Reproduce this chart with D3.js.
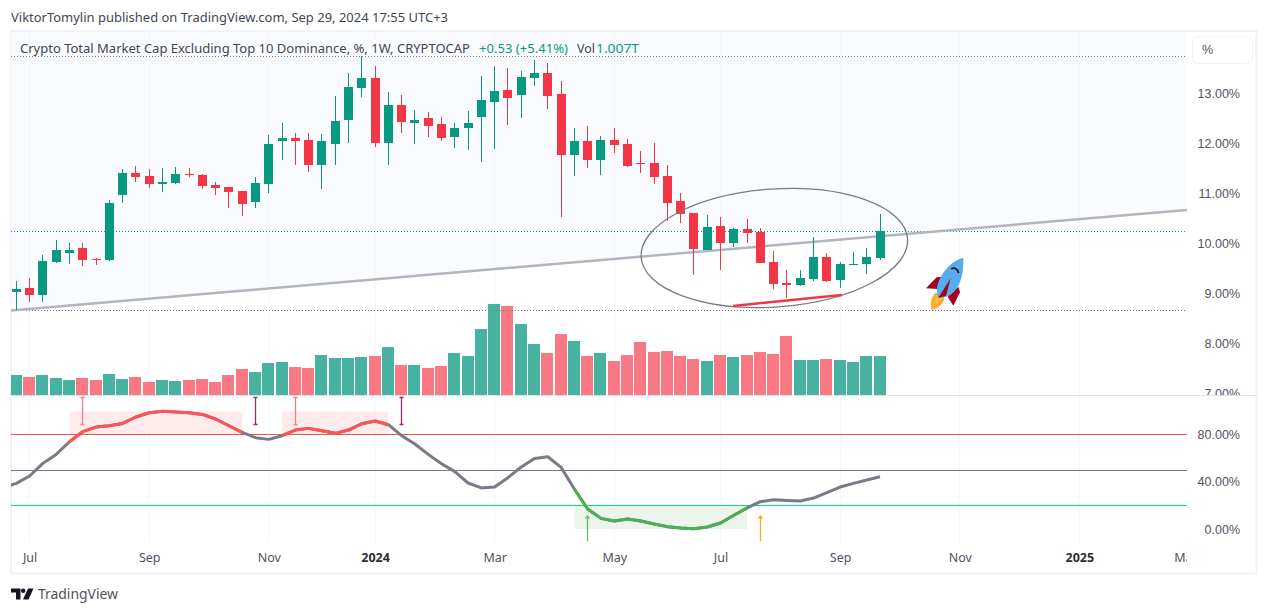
<!DOCTYPE html>
<html>
<head>
<meta charset="utf-8">
<script src="https://cdn.jsdelivr.net/npm/d3@7/dist/d3.min.js"></script>
<style>html,body{margin:0;padding:0;background:#fff}svg{display:block}</style>
</head>
<body>
<div id="chart"></div>
<script>
const opens  = [9.02,9.10,8.96,9.62,9.80,9.90,9.68,9.66,10.96,11.40,11.34,11.18,11.20,11.38,11.36,11.16,11.12,11.04,10.82,11.18,12.04,12.10,12.06,11.56,11.98,12.46,13.10,13.30,12.00,12.76,12.40,12.50,12.38,12.12,12.30,12.52,12.82,13.06,12.96,13.30,13.40,12.98,11.76,12.04,11.66,12.06,11.98,11.60,11.60,11.34,10.84,10.60,9.86,10.34,10.00,10.28,10.22,9.62,9.20,9.16,9.28,9.72,9.26,9.56,9.58,9.70];
const highs  = [9.24,9.30,9.76,10.06,10.00,10.00,9.70,10.86,11.48,11.54,11.48,11.50,11.52,11.50,11.38,11.22,11.12,11.04,11.32,12.16,12.40,12.20,12.20,12.18,12.94,13.40,13.74,13.54,13.02,12.96,12.66,12.62,12.52,12.40,12.64,13.34,13.54,13.50,13.44,13.66,13.60,13.24,12.30,12.34,12.14,12.30,12.08,11.84,12.00,11.56,11.00,10.60,10.56,10.52,10.30,10.48,10.30,9.84,9.46,9.46,10.12,9.80,9.62,9.82,9.90,10.58];
const lows   = [8.66,8.82,8.82,9.60,9.58,9.54,9.56,9.64,10.80,11.22,11.10,11.02,11.18,11.32,11.08,10.96,10.70,10.54,10.70,11.00,11.66,11.56,11.42,11.08,11.56,12.00,12.92,11.92,11.56,12.20,11.98,12.12,12.04,11.90,11.86,11.62,11.88,12.36,12.50,13.14,12.68,10.52,11.34,11.50,11.36,11.80,11.52,11.40,11.18,10.44,10.40,9.36,9.86,9.46,9.92,10.00,9.60,9.08,8.90,9.14,9.24,9.22,9.10,9.56,9.38,9.66];
const closes = [9.08,8.96,9.64,9.86,9.86,9.66,9.66,10.80,11.40,11.32,11.18,11.22,11.38,11.36,11.14,11.10,11.02,10.78,11.20,11.98,12.10,12.04,11.56,12.04,12.44,13.12,13.30,12.00,12.76,12.42,12.46,12.34,12.10,12.30,12.40,12.86,13.04,12.90,13.32,13.40,12.94,11.76,12.04,11.66,12.06,11.96,11.54,11.58,11.32,10.80,10.58,9.88,10.32,10.00,10.28,10.20,9.60,9.18,9.16,9.30,9.72,9.24,9.58,9.58,9.72,10.24];
const volumes = [.52,.46,.52,.44,.39,.44,.39,.54,.41,.46,.34,.39,.36,.39,.41,.34,.52,.67,.59,.83,.85,.72,.70,1.03,.95,.95,.98,1.01,1.24,.77,.77,.70,.75,1.08,1.01,1.70,2.35,2.30,1.83,1.32,1.08,1.57,1.39,1.01,1.08,.88,1.03,1.37,1.11,1.14,1.01,.93,.88,1.03,.98,1.03,1.11,1.06,1.52,.90,.90,.93,.90,.85,1.01,1.007];
const rsiBefore = 34.7;
const rsi = [38.6,44.8,55.5,63.1,73.8,82.3,86.2,87.3,89.3,94.7,98.3,99.5,98.9,98.3,96.9,93.0,87.3,81.7,77.2,75.8,78.9,83.7,85.1,83.1,80.9,83.7,89.0,91.3,88.2,78.9,71.9,63.1,55.2,48.5,38.9,34.7,35.5,43.4,52.4,59.7,61.1,52.1,33.8,16.9,9.0,6.8,8.5,6.8,4.2,2.0,0.8,0.3,1.7,5.1,11.6,17.8,23.1,24.8,24.2,23.7,26.2,30.7,35.5,38.6,41.4,44.2];
const overboughtRanges = [[4,17],[20,28]];
const oversoldRanges = [[42,55]];
const rsiLevels = [80,50,20];
const rsiLevelColors = ["#ef5350","#787b86","#00e676"];
const priceTicks = [7,8,9,10,11,12,13];
const rsiTicks = [0,40,80];
const timeTickIdx = [1,10,19,27,36,45,53,62,71,80,88];
const timeTickLabels = ["Jul","Sep","Nov","2024","Mar","May","Jul","Sep","Nov","2025","Mar"];
const boldLabels = ["2024","2025"];
const dottedLevels = [13.74,8.66];
const lastPrice = 10.24;
const trendIdx = [-0.4,88.1];
const trendVal = [8.65,10.66];
const supportIdx = [53.93,62.13];
const supportVal = [8.74,8.96];
const ellipseCenter = [57.05,9.90];
const ellipseRadii = [10.05,1.18];
const upperMarkers = [[5,"#f77c80"],[18,"#9c2a6c"],[21,"#f77c80"],[29,"#9c2a6c"]];
const lowerMarkers = [[43,"#66bb6a"],[56,"#ffa726"]];

const W=1268,H=614,L=11,R=1187,T=32,PB=395,B=541.5;
const font='"Noto Sans",sans-serif', axisFont='"Liberation Sans",sans-serif';
const x=d3.scaleLinear().domain([0,65]).range([16.3,880]);
const y=d3.scaleLinear().domain([7,14]).range([393,43]);
const yv=d3.scaleLinear().domain([0,2.35]).range([395,304]);
const yr=d3.scaleLinear().domain([0,80]).range([529,434.4]);
const GREEN="#089981",RED="#f23645",VG="#46b29f",VR="#f87884";

const svg=d3.select("#chart").append("svg").attr("width",W).attr("height",H).attr("viewBox",`0 0 ${W} ${H}`);
const defs=svg.append("defs");
defs.append("clipPath").attr("id","main").append("rect").attr("x",L).attr("y",T).attr("width",R-L).attr("height",PB-T);
defs.append("clipPath").attr("id","rsi").append("rect").attr("x",L).attr("y",PB).attr("width",R-L).attr("height",B-PB);
defs.append("clipPath").attr("id","pax").append("rect").attr("x",R).attr("y",T).attr("width",70).attr("height",PB-T);
defs.append("clipPath").attr("id","tax").append("rect").attr("x",L).attr("y",B).attr("width",R-L).attr("height",32);

svg.append("rect").attr("width",W).attr("height",H).attr("fill","#fff");
// frame
svg.append("rect").attr("x",11).attr("y",31).attr("width",1245.5).attr("height",542.5).attr("fill","none").attr("stroke","#f0f3fa").attr("stroke-width",2);

// shaded area above the trend line
svg.append("g").attr("clip-path","url(#main)").append("path").attr("fill","#f9fbff")
  .attr("d",`M${x(trendIdx[0])},${T}L${x(trendIdx[1])},${T}L${x(trendIdx[1])},${y(trendVal[1])}L${x(trendIdx[0])},${y(trendVal[0])}Z`);
// grid
svg.append("g").selectAll("line").data(timeTickIdx.slice(0,-1)).join("line")
  .attr("x1",d=>Math.floor(x(d))+.5).attr("x2",d=>Math.floor(x(d))+.5).attr("y1",T).attr("y2",B)
  .attr("stroke","#f5f6fa");

const main=svg.append("g").attr("clip-path","url(#main)");
// volume
main.append("g").selectAll("rect").data(volumes).join("rect")
  .attr("x",(d,i)=>Math.round(x(i)-6.5)).attr("width",(d,i)=>Math.round(x(i)+6.5)-1-Math.round(x(i)-6.5))
  .attr("y",d=>Math.round(yv(d))).attr("height",d=>395-Math.round(yv(d)))
  .attr("fill",(d,i)=>closes[i]>=opens[i]?VG:VR);
// dotted levels
main.append("g").selectAll("line").data(dottedLevels).join("line")
  .attr("x1",L).attr("x2",R).attr("y1",d=>Math.round(y(d))+.5).attr("y2",d=>Math.round(y(d))+.5)
  .attr("stroke","#787b86").attr("stroke-dasharray","1 2");
main.append("line").attr("x1",L).attr("x2",R).attr("y1",Math.round(y(lastPrice))+.5).attr("y2",Math.round(y(lastPrice))+.5)
  .attr("stroke",GREEN).attr("stroke-dasharray","1 2");
// trend line
main.append("line").attr("x1",x(trendIdx[0])).attr("y1",y(trendVal[0])).attr("x2",x(trendIdx[1])).attr("y2",y(trendVal[1]))
  .attr("stroke","#b2b5be").attr("stroke-width",2.5);
// candles
const c=main.append("g");
c.selectAll("line").data(d3.range(opens.length)).join("line")
  .attr("x1",i=>Math.floor(x(i))+.5).attr("x2",i=>Math.floor(x(i))+.5)
  .attr("y1",i=>y(highs[i])).attr("y2",i=>y(lows[i]))
  .attr("stroke",i=>closes[i]>=opens[i]?GREEN:RED);
c.selectAll("rect").data(d3.range(opens.length)).join("rect")
  .attr("x",i=>Math.floor(x(i))-4).attr("width",9)
  .attr("y",i=>Math.round(y(Math.max(opens[i],closes[i]))))
  .attr("height",i=>Math.max(1,Math.round(y(Math.min(opens[i],closes[i])))-Math.round(y(Math.max(opens[i],closes[i])))))
  .attr("fill",i=>closes[i]>=opens[i]?GREEN:RED);
// ellipse and support line
main.append("ellipse")
  .attr("cx",x(ellipseCenter[0])).attr("cy",y(ellipseCenter[1]))
  .attr("rx",x(ellipseRadii[0])-x(0)).attr("ry",y(ellipseCenter[1]-ellipseRadii[1])-y(ellipseCenter[1]))
  .attr("transform",`rotate(-4 ${x(ellipseCenter[0])} ${y(ellipseCenter[1])})`)
  .attr("fill","none").attr("stroke","#787b86").attr("stroke-width",1.3);
main.append("line").attr("x1",x(supportIdx[0])).attr("y1",y(supportVal[0])).attr("x2",x(supportIdx[1])).attr("y2",y(supportVal[1]))
  .attr("stroke",RED).attr("stroke-width",2.5);
// rocket
const rocket=svg.append("g").attr("transform","translate(910,245) scale(.3333)");
rocket.append("path").attr("fill","#a0041e").attr("d","M48 130L80 97L96 95L82 132Z");
rocket.append("path").attr("fill","#a0041e").attr("d","M113 155L145 125L150 142L130 182Z");
rocket.append("path").attr("fill","#ffac33").attr("d","M65 196C58 175 65 155 76 143L104 158C100 178 82 190 65 196Z");
rocket.append("path").attr("fill","#ffcc4d").attr("d","M76 175C76 165 80 158 84 153L96 160C92 168 84 173 76 175Z");
rocket.append("path").attr("fill","#55acee").attr("d","M160 38C130 46 102 72 88 105C80 124 78 140 84 156C98 160 118 156 134 138C152 118 162 80 160 38Z");
rocket.append("path").attr("fill","#a0041e").attr("d","M122 100L84 160L108 152Z");
rocket.append("path").attr("fill","none").attr("stroke","#111").attr("stroke-width",5).attr("d","M124 72C132 66 142 70 146 84");

// volume / rsi separator
svg.append("line").attr("x1",L).attr("x2",1257).attr("y1",395.5).attr("y2",395.5).attr("stroke","#e0e3eb");

// rsi pane
const rp=svg.append("g").attr("clip-path","url(#rsi)");
rp.append("g").selectAll("rect").data(overboughtRanges).join("rect")
  .attr("x",d=>x(d[0])).attr("width",d=>x(d[1])-x(d[0])).attr("y",yr(100)+.8).attr("height",yr(80)-yr(100)-.8).attr("fill","#ffebec");
rp.append("g").selectAll("rect").data(oversoldRanges).join("rect")
  .attr("x",d=>x(d[0])).attr("width",d=>x(d[1])-x(d[0])).attr("y",yr(20)).attr("height",yr(0)-yr(20)).attr("fill","#ebf5ec");
rp.append("g").selectAll("line").data(rsiLevels).join("line")
  .attr("x1",L).attr("x2",R).attr("y1",d=>Math.round(yr(d))+.5).attr("y2",d=>Math.round(yr(d))+.5)
  .attr("stroke",(d,i)=>rsiLevelColors[i]);
const rsiAll=[rsiBefore,...rsi];
const lineGen=d3.line().x(d=>x(d.i)).y(d=>yr(d.v));
const pts=rsiAll.map((v,k)=>({i:k-1,v}));
rp.append("path").attr("d",lineGen(pts)).attr("fill","none").attr("stroke","#787b86").attr("stroke-width",3).attr("stroke-linejoin","round");
const seg=(ranges,col)=>ranges.forEach(r=>rp.append("path").attr("d",lineGen(pts.filter(p=>p.i>=r[0]&&p.i<=r[1]))).attr("fill","none").attr("stroke",col).attr("stroke-width",3).attr("stroke-linejoin","round"));
seg(overboughtRanges,"#ff5252");
seg(oversoldRanges,"#4caf50");
// markers
upperMarkers.forEach(([i,col])=>{
  const px=Math.floor(x(i))+.5, m=rp.append("g").attr("stroke",col).attr("stroke-width",1.3);
  m.append("line").attr("x1",px).attr("x2",px).attr("y1",397).attr("y2",425);
  m.append("line").attr("x1",px-2).attr("x2",px+2).attr("y1",397.5).attr("y2",397.5);
  m.append("line").attr("x1",px-2).attr("x2",px+2).attr("y1",424.5).attr("y2",424.5);
});
lowerMarkers.forEach(([i,col])=>{
  const px=Math.floor(x(i))+.5, m=rp.append("g").attr("stroke",col).attr("stroke-width",1.3).attr("fill","none");
  m.append("line").attr("x1",px).attr("x2",px).attr("y1",516).attr("y2",B);
  m.append("path").attr("d",`M${px-2},518.5L${px},516L${px+2},518.5`);
});

// axes
const styleAxis=g=>{g.select(".domain").remove();g.selectAll("line").remove();};
const priceAxis=d3.axisRight(y).tickValues(priceTicks).tickSize(0).tickPadding(0).tickFormat(d=>d3.format(".2f")(d)+"%");
svg.append("g").attr("clip-path","url(#pax)").append("g").attr("transform","translate(1240,0)").call(priceAxis).call(styleAxis)
  .selectAll("text").attr("text-anchor","end").attr("x",0).attr("font-family",axisFont).attr("font-size",12.5).attr("fill","#50535e");
const rsiAxis=d3.axisRight(yr).tickValues(rsiTicks).tickSize(0).tickPadding(0).tickFormat(d=>d3.format(".2f")(d)+"%");
svg.append("g").attr("transform","translate(1240,0)").call(rsiAxis).call(styleAxis)
  .selectAll("text").attr("text-anchor","end").attr("x",0).attr("font-family",axisFont).attr("font-size",12.5).attr("fill","#50535e");
const timeAxis=d3.axisBottom(x).tickValues(timeTickIdx).tickSize(0).tickPadding(0).tickFormat((d,i)=>timeTickLabels[i]);
svg.append("g").attr("clip-path","url(#tax)").append("g").attr("transform","translate(0,550)").call(timeAxis).call(styleAxis)
  .selectAll("text").attr("font-family",font).attr("font-size",12.5)
  .attr("font-weight",function(){return boldLabels.includes(this.textContent)?700:400;})
  .attr("y",3).attr("dy",".71em").attr("fill",function(){return boldLabels.includes(this.textContent)?"#2a2e39":"#50535e";});

// % box
svg.append("rect").attr("x",1192.5).attr("y",36.5).attr("width",60).attr("height",27).attr("rx",5).attr("fill","#fff").attr("stroke","#f0f3fa");
svg.append("text").attr("x",1202).attr("y",54).attr("font-family",axisFont).attr("font-size",12.5).attr("fill","#50535e").text("%");

// texts
const t=(s,xx,yy,col,size,len)=>{const e=svg.append("text").attr("x",xx).attr("y",yy).attr("font-family",font).attr("font-size",size).attr("fill",col).text(s);if(len)e.attr("textLength",len).attr("lengthAdjust","spacingAndGlyphs");return e;};
t("ViktorTomylin published on TradingView.com, Sep 29, 2024 17:55 UTC+3",11,22,"#434651",13,437);
t("Crypto Total Market Cap Excluding Top 10 Dominance, %, 1W, CRYPTOCAP",20,53,"#434651",13,450);
t("+0.53 (+5.41%)",479,53,GREEN,13,89);
t("Vol",577,53,"#434651",13,18);
t("1.007T",596,53,GREEN,13,43);
t("TradingView",38,599,"#50535e",15,80);
// logo
const logo=svg.append("g").attr("fill","#131722");
logo.append("path").attr("d","M11 588.5h9.5v11h-4.5v-7h-5z");
logo.append("circle").attr("cx",23.2).attr("cy",590.7).attr("r",2.2);
logo.append("path").attr("d","M28 588.5h5.5l-5 11h-5.5z");
</script>
</body>
</html>
